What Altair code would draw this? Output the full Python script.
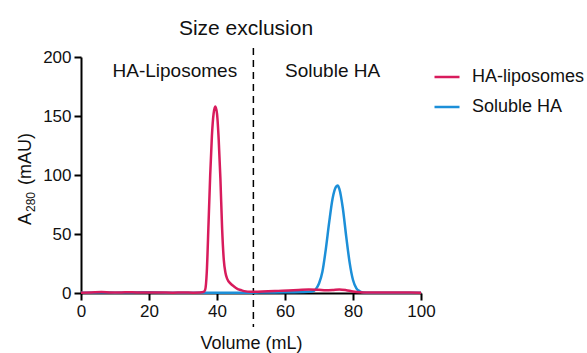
import altair as alt
import pandas as pd

# HA-liposomes trace (Volume mL, A280 mAU)
lip_x = [0, 3, 6, 9, 12, 15, 18, 21, 24, 27, 30, 33, 35, 36, 36.5, 37, 37.5, 38, 38.5, 39, 39.5, 40,
         40.5, 41, 41.5, 42, 42.5, 43, 44, 45, 46, 47, 48, 50, 52, 55, 58, 61, 64, 67, 70, 72, 74, 76,
         78, 80, 82, 85, 90, 95, 100]
lip_y = [0.3, 0.5, 0.8, 0.4, 0.5, 0.6, 0.4, 0.5, 0.4, 0.3, 0.4, 0.3, 0.4, 0.8, 2.5, 18, 58, 100, 133, 152, 158, 152,
         130, 97, 55, 28, 17, 12, 8, 5.5, 3.5, 2.5, 1.6, 1.0, 1.1, 1.4, 1.8, 2.2, 2.6, 3.0, 2.7, 2.4, 2.6, 3.0,
         2.4, 1.3, 0.7, 0.5, 0.4, 0.4, 0.3]

# Soluble HA trace
sol_x = [0, 5, 10, 15, 20, 25, 30, 35, 40, 45, 50, 55, 60, 65, 68, 69, 70, 71, 72, 73, 74, 75, 75.5, 76,
         77, 78, 79, 80, 81, 82, 83, 85, 90, 95, 100]
sol_y = [0.2, 0.4, 0.3, 0.5, 0.6, 0.3, 0.2, 0.3, 0.2, 0.2, 0.3, 0.4, 0.6, 0.8, 1.2, 3, 8, 18, 37, 60, 80, 90, 91, 88,
         72, 48, 26, 11, 4, 1.5, 0.5, 0.3, 0.2, 0.2, 0.2]

series_names = ["HA-liposomes", "Soluble HA"]
series_colors = ["#D81B5C", "#1C8FD8"]

x_ticks = [0, 20, 40, 60, 80, 100]
y_ticks = [0, 50, 100, 150, 200]

divider_x = [50.7]
ann_text = ["HA-Liposomes", "Soluble HA"]
ann_x = [27.6, 74]
ann_y = [183, 183]

# y-axis title pieces: A, subscript 280, (mAU)
ytitle_text = ["A", "280", "(mAU)"]

FONT = "Liberation Sans"
INK = "#111111"

lip_df = pd.DataFrame({"Volume": lip_x, "A280": lip_y, "Sample": series_names[0]})
sol_df = pd.DataFrame({"Volume": sol_x, "A280": sol_y, "Sample": series_names[1]})

x_scale = alt.Scale(domain=[0, 100], nice=False, zero=False)
y_scale = alt.Scale(domain=[0, 200], nice=False)
color_scale = alt.Scale(domain=series_names, range=series_colors)

x_enc = alt.X("Volume:Q", scale=x_scale,
              axis=alt.Axis(title="Volume (mL)", values=x_ticks, grid=False, labelFlush=False,
                            titleX=170, titleY=55, titleBaseline="alphabetic"))
y_enc = alt.Y("A280:Q", scale=y_scale,
              axis=alt.Axis(title=None, values=y_ticks, grid=False))
legend = alt.Legend(title=None, orient="none", legendX=352, legendY=6,
                    symbolType="stroke", symbolSize=625, symbolStrokeWidth=2.5,
                    labelFontSize=18, labelFont=FONT, labelColor=INK,
                    rowPadding=7, labelOffset=11)


def line_layer(d):
    return alt.Chart(d).mark_line(strokeWidth=2.5, interpolate="monotone", clip=False).encode(
        x=x_enc, y=y_enc,
        color=alt.Color("Sample:N", scale=color_scale, legend=legend),
    )


rule = alt.Chart(pd.DataFrame({"x": divider_x})).mark_rule(
    color="black", strokeWidth=1.5, strokeDash=[7, 5], clip=False
).encode(x=alt.X("x:Q", scale=x_scale), y=alt.value(-9), y2=alt.value(270))

ann = alt.Chart(pd.DataFrame({"t": ann_text, "x": ann_x, "y": ann_y})).mark_text(
    fontSize=19, font=FONT, color=INK, baseline="alphabetic", align="center"
).encode(x=alt.X("x:Q", scale=x_scale), y=alt.Y("y:Q", scale=y_scale), text="t:N")

yt_a = alt.Chart(pd.DataFrame({"t": [ytitle_text[0]]})).mark_text(
    fontSize=18, font=FONT, color=INK, angle=270, align="left", baseline="alphabetic"
).encode(x=alt.value(-50), y=alt.value(168), text="t:N")
yt_sub = alt.Chart(pd.DataFrame({"t": [ytitle_text[1]]})).mark_text(
    fontSize=12, font=FONT, color=INK, angle=270, align="left", baseline="alphabetic"
).encode(x=alt.value(-46), y=alt.value(155), text="t:N")
yt_unit = alt.Chart(pd.DataFrame({"t": [ytitle_text[2]]})).mark_text(
    fontSize=18, font=FONT, color=INK, angle=270, align="left", baseline="alphabetic"
).encode(x=alt.value(-50), y=alt.value(128), text="t:N")

chart = alt.layer(rule, line_layer(sol_df), line_layer(lip_df), ann, yt_a, yt_sub, yt_unit).properties(
    width=340, height=236,
    title=alt.TitleParams("Size exclusion", fontSize=21, font=FONT, fontWeight="normal",
                          color=INK, anchor="middle", frame="group", dx=-5, dy=33, offset=24,
                          baseline="alphabetic"),
    autosize=alt.AutoSizeParams(type="none"),
    padding={"left": 81, "top": 57, "right": 166, "bottom": 60},
).configure_view(stroke=None).configure_axis(
    domainColor="black", domainWidth=2, tickColor="black", tickWidth=2, tickSize=7,
    labelFontSize=17, labelFont=FONT, labelColor=INK, labelPadding=3,
    titleFontSize=18, titleFont=FONT, titleFontWeight="normal", titleColor=INK,
)

chart.save("out.html", embed_options={"renderer": "svg", "actions": False})
